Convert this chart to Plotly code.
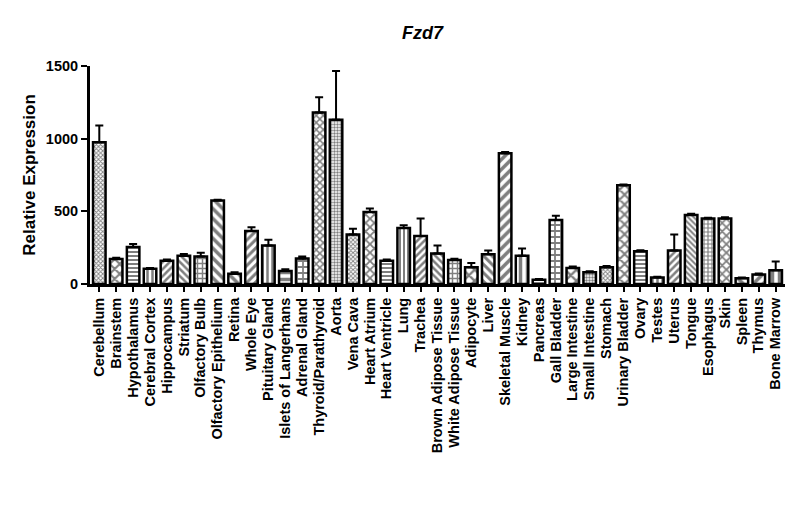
import plotly.graph_objects as go

# tissue panel, Fzd7 expression
tissues = ["Cerebellum", "Brainstem", "Hypothalamus", "Cerebral Cortex", "Hippocampus",
           "Striatum", "Olfactory Bulb", "Olfactory Epithelium", "Retina", "Whole Eye",
           "Pituitary Gland", "Islets of Langerhans", "Adrenal Gland", "Thyroid/Parathyroid",
           "Aorta", "Vena Cava", "Heart Atrium", "Heart Ventricle", "Lung", "Trachea",
           "Brown Adipose Tissue", "White Adipose Tissue", "Adipocyte", "Liver",
           "Skeletal Muscle", "Kidney", "Pancreas", "Gall Bladder", "Large Intestine",
           "Small Intestine", "Stomach", "Urinary Bladder", "Ovary", "Testes", "Uterus",
           "Tongue", "Esophagus", "Skin", "Spleen", "Thymus", "Bone Marrow"]

expression = [975, 172, 255, 105, 160, 195, 190, 575, 70, 365,
              265, 90, 175, 1180, 1130, 340, 495, 160, 385, 330,
              210, 165, 115, 205, 900, 195, 30, 440, 110, 80,
              115, 680, 225, 45, 230, 475, 450, 450, 40, 65, 95]

sem = [115, 8, 20, 5, 8, 12, 25, 5, 10, 25,
       40, 12, 15, 105, 335, 40, 25, 8, 20, 120,
       55, 8, 30, 25, 8, 50, 5, 30, 10, 8,
       8, 5, 8, 5, 110, 8, 5, 10, 5, 8, 60]

# hatch style for each bar (GraphPad-like fills)
hatch = ["x", "x", "-", "|", "/", "\\", "+", "\\", "\\", "/",
         "|", "-", "+", "x", ".", "x", "x", "-", "|", "/",
         "\\", "+", "x", "\\", "/", "|", "-", "+", "x", ".",
         "x", "x", "-", "|", "/", "\\", "+", "x", "\\", "/", "|"]
hatch_size = [3, 7, 4, 5, 5, 5, 5, 7, 7, 6,
              5, 7, 6, 5, 3, 3, 6, 4, 4, 5,
              5, 5, 8, 6, 7, 7, 5, 6, 8, 3,
              3, 7, 4, 5, 5, 4, 4, 6, 7, 7, 7]

font = "Liberation Sans, Arial, sans-serif"

fig = go.Figure()
fig.add_trace(go.Bar(
    x=list(range(len(tissues))),
    y=expression,
    width=0.74,
    marker=dict(color="white",
                line=dict(color="black", width=2.5),
                pattern=dict(shape=hatch, size=hatch_size, solidity=0.5,
                             fgcolor="black", bgcolor="white")),
    error_y=dict(type="data", symmetric=False, array=sem,
                 arrayminus=[0] * len(sem), color="black", thickness=2, width=4),
    showlegend=False,
))

fig.update_layout(
    width=800, height=522,
    margin=dict(l=82, r=23, t=58, b=246),
    paper_bgcolor="white", plot_bgcolor="white",
    title=dict(text="<b><i>Fzd7</i></b>", x=0.518, xanchor="center",
               y=0.952, yanchor="middle",
               font=dict(family=font, size=18, color="black")),
    font=dict(family=font, color="black"),
)
fig.update_xaxes(
    range=[-0.55, 40.55],
    tickmode="array",
    tickvals=list(range(len(tissues))),
    ticktext=["<b>%s</b>" % t for t in tissues],
    tickangle=-90,
    tickfont=dict(family=font, size=14.5, color="black"),
    ticks="outside", ticklen=5, tickwidth=2, tickcolor="black",
    showline=True, linecolor="black", linewidth=3,
    showgrid=False, zeroline=False,
)
fig.update_yaxes(
    range=[0, 1500],
    tickvals=[0, 500, 1000, 1500],
    ticktext=["<b>0</b>", "<b>500</b>", "<b>1000</b>", "<b>1500</b>"],
    tickfont=dict(family=font, size=14.5, color="black"),
    ticks="outside", ticklen=6, tickwidth=2, tickcolor="black",
    showline=True, linecolor="black", linewidth=3,
    showgrid=False, zeroline=False,
    title=dict(text="<b>Relative Expression</b>", standoff=6,
               font=dict(family=font, size=17, color="black")),
)

fig.write_html("out.html")
